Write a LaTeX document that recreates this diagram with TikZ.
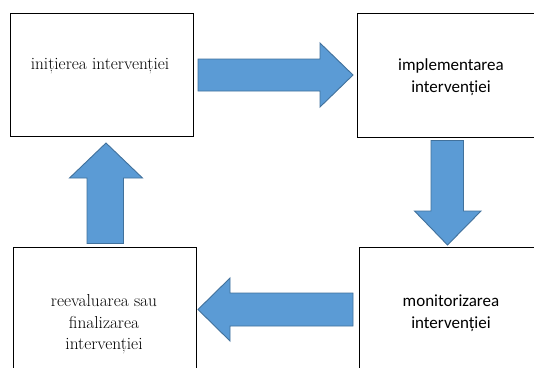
\documentclass[tikz,border=0pt]{standalone}
\usepackage{fontspec}
\newfontfamily\calfont{Carlito}
\definecolor{arrowfill}{HTML}{5B9BD5}
\definecolor{arrowline}{HTML}{41719C}
\begin{document}
\begin{tikzpicture}[x=1pt,y={(0pt,-1pt)},
  box/.style={draw=black,line width=0.9pt,inner sep=0pt,anchor=north west},
  blockarrow/.style={fill=arrowfill,draw=arrowline,line width=0.9pt,line join=miter},
  serif/.style={font=\rmfamily\addfontfeature{FakeBold=0.4}\fontsize{17.3}{21.5}\selectfont,inner sep=0pt,anchor=base},
  sans/.style={font=\calfont\fontsize{17}{22}\selectfont,inner sep=0pt,anchor=base}]
\useasboundingbox (0,0) rectangle (534,367);
\clip (0,0) rectangle (534,367);
\fill[white] (0,0) rectangle (534,367);
% boxes
\node[box,minimum width=183.5pt,minimum height=123.5pt] (A) at (9.5,12.5) {};
\node[box,minimum width=183pt,minimum height=124pt] (B) at (357,12.5) {};
\node[box,minimum width=182pt,minimum height=125pt] (C) at (359,246.5) {};
\node[box,minimum width=183pt,minimum height=125pt] (D) at (13,247) {};
% texts
\node[serif] (tA) at (100,69) {inițierea intervenției};
\node[sans] (tB) at (451,70.5) {\begin{tabular}[t]{@{}c@{}}implementarea\\intervenției\end{tabular}};
\node[sans] (tC) at (451,306) {\begin{tabular}[t]{@{}c@{}}monitorizarea\\intervenției\end{tabular}};
\node[serif] (tD) at (104,306.5) {\begin{tabular}[t]{@{}c@{}}reevaluarea sau\\finalizarea\\intervenției\end{tabular}};
% block arrows
\draw[blockarrow] (198,59) -- (320,59) -- (320,43) -- (353,75) -- (320,107) -- (320,91) -- (198,91) -- cycle;
\draw[blockarrow] (431,140.5) -- (463.5,140.5) -- (463.5,211) -- (481,211) -- (447.5,245) -- (414.5,211) -- (431,211) -- cycle;
\draw[blockarrow] (353,293) -- (230,293) -- (230,278) -- (198,309.5) -- (230,341) -- (230,326) -- (353,326) -- cycle;
\draw[blockarrow] (87,243.5) -- (87,178) -- (69.5,178) -- (106,143) -- (142.5,178) -- (123.5,178) -- (123.5,243.5) -- cycle;
\end{tikzpicture}
\end{document}
